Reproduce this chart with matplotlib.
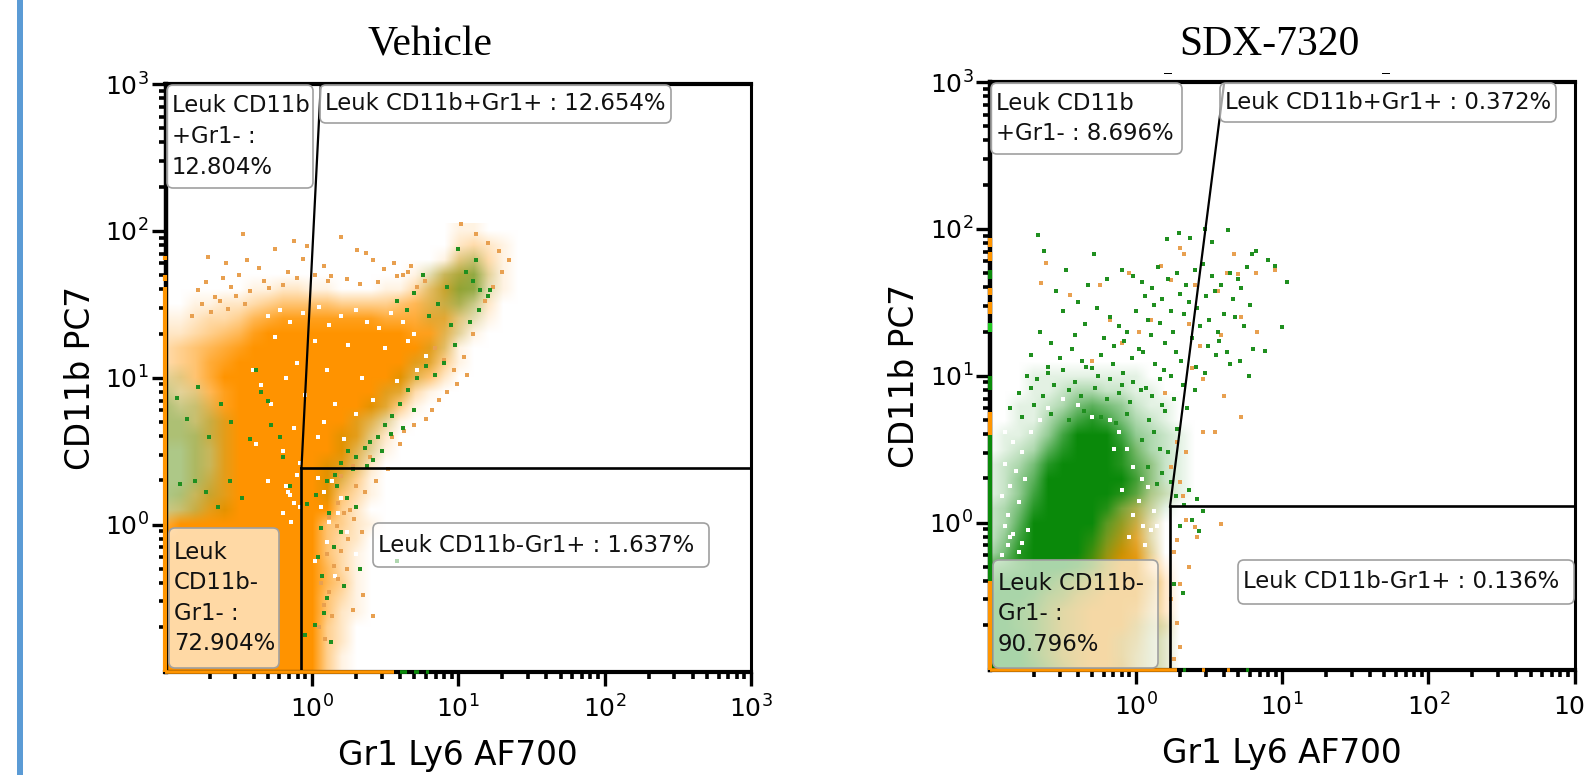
import numpy as np
import matplotlib
matplotlib.use('Agg')
import matplotlib.pyplot as plt
from matplotlib.patches import FancyBboxPatch, Rectangle
from matplotlib.ticker import NullFormatter
from matplotlib.transforms import IdentityTransform

plt.rcParams['font.family'] = 'DejaVu Sans'
plt.rcParams['mathtext.default'] = 'regular'

# density, 0-9, top row is log10(y)=2.0, bottom is -1.0
# columns are log10(x) = -1.0, -0.9 ... 1.5
orange1 = [
    "00000000000000000000110000", "00000000000000000000232100", "00000000000000000001443100",
    "00000000000000000125653100", "00000011221100011357652100", "00112234555544445666532000",
    "11233467888888877777421000", "22345689999999999886310000", "34567899999999999985100000",
    "34578999999999999874100000", "34579999999999999652000000", "33468999999999987310000000",
    "33468999999999974100000000", "33468999999998631000000000", "33468999999998420000000000",
    "22458999999996310000000000", "22458999999985200000000000", "22468999999964100000000000",
    "23578999999953100000000000", "34689999999942000000000000", "79999999999542100000000000",
    "99999999999532000000000000", "99999999999531000000000000", "99999999999631000000000000",
    "99999999999641000000000000", "99999999999531000000000000", "99999999999521000000000000",
    "99999999999420000000000000", "99999999999420000000000000", "99999999999410000000000000",
    "99999999999410000000000000",
]
green1 = [
    "00000000000000000000000000", "00000000000000000000000000", "00000000000000000000120000",
    "00000000000000000012341000", "00000000000000000012441000", "00000000000000000012320000",
    "00000000000000000011110000", "00000000000000000001100000", "00000000000000000011000000",
    "00000000000000000110000000", "11000000000000001100000000", "21100000000000011000000000",
    "32210000000000110000000000", "33221000000001110000000000", "33321000000011100000000000",
    "33321000000011100000000000", "33321000000111000000000000", "33321000000110000000000000",
    "33221000000100000000000000", "22211000000000000000000000", "00000000000000000000000000",
    "00000000000000000000000000", "00000000000000000000000000", "00000000000000000000000000",
    "00000000000000000000000000", "00000000000000000000000000", "00000000000000000000000000",
    "00000000000000000000000000", "00000000000000000000000000", "00000000000000000000000000",
    "00000000000000000000000000",
]
orange2 = [
    "00000000000000000000000000", "00000000000000000000000000", "00000000000000000000000000",
    "00000000000000000000000000", "00000000000000000000000000", "00000000000000000000000000",
    "00000000000000000000000000", "00000000000000000000000000", "00000000000000000000000000",
    "00000000000000000000000000", "00000000000000000000000000", "00000000000000000000000000",
    "00000000000000000000000000", "00000000000000000000000000", "00000000000000000000000000",
    "00000001111000000000000000", "00000011221100000000000000", "00000112332100000000000000",
    "00000123443210000000000000", "00001234555200000000000000", "00012356676200000000000000",
    "00012357787200000000000000", "00123578898300000000000000", "11235799999410000000000000",
    "44569999999620000000000000", "66789999999520000000000000", "77899999998420000000000000",
    "88899999997320000000000000", "89999999986210000000000000", "99999999985210000000000000",
    "99999999995210000000000000",
]
green2 = [
    "00000000000000000000000000", "00000000000000000000000000", "00000000000000000000000000",
    "00000000000000000000000000", "00000000000000000000000000", "00000000000000000000000000",
    "00000000000000000000000000", "00000000000000000000000000", "00000000000000000000000000",
    "00000000000000000000000000", "00011111111000000000000000", "00011233221100000000000000",
    "00112356542110000000000000", "00113578753210000000000000", "01124799974321000000000000",
    "01236899985321000000000000", "12358999986421000000000000", "12469999997421000000000000",
    "12479999986321000000000000", "23589999853210000000000000", "23699999642100000000000000",
    "24799998531100000000000000", "35899997421100000000000000", "67899986311000000000000000",
    "89998653211100000000000000", "99986532111100000000000000", "99875321111100000000000000",
    "99875321112210000000000000", "99975321122210000000000000", "99975321122210000000000000",
    "99986421122210000000000000",
]

# single dots in log10 units
dots_o1_x = [-.47,-.12,-.03,.20,.31,.37,-.71,-.59,-.44,-.36,-.25,-.16,-.06,.08,.13,.42,.49,.56,.62,.68,
             -.78,-.72,-.66,-.61,-.55,-.50,-.42,-.33,-.29,-.20,-.10,.02,.11,.24,.33,.45,.58,.66,.72,.77,
             -.82,-.75,-.69,-.63,-.57,-.52,-.46,.84,.90,.97,1.04,1.10,1.18,1.24,1.30,1.35,1.28,1.20,1.12,1.02,
             1.06,.99,.92,.87,.82,.78,.70,.63,.55,.60,.48,.40,.28,.20,.52,.44,.36,.30,.18,.26,
             .12,.17,.22,.29,.25,.34,.10,.15,.20,.06,.12,.18,.24,.08,.14,.05,.09,.28,.35,.42]
dots_o1_y = [1.98,1.93,1.90,1.96,1.87,1.85,1.82,1.78,1.80,1.75,1.88,1.72,1.81,1.76,1.69,1.80,1.74,1.78,1.70,1.76,
             1.60,1.65,1.55,1.68,1.62,1.70,1.59,1.66,1.61,1.63,1.68,1.70,1.66,1.67,1.64,1.65,1.69,1.72,1.62,1.66,
             1.42,1.50,1.45,1.52,1.47,1.56,1.50,1.20,1.12,1.05,1.14,1.30,1.52,1.62,1.72,1.80,1.86,1.92,1.98,2.05,
             1.02,.96,.90,.85,.78,.72,.68,.64,.60,.55,.50,.46,.40,.33,.38,.30,.22,.26,.15,.10,
             .05,-.01,.08,.04,-.10,-.05,-.20,-.28,-.18,-.40,-.46,-.37,-.30,-.55,-.62,-.70,-.78,-.58,-.48,-.62]
dots_g1_x = [1.0,1.05,1.1,1.15,1.2,.92,.86,.8,.76,.7,.65,.58,.95,1.08,1.14,1.22,.98,.9,.84,1.12,
             .72,.66,.6,.55,.5,.45,.4,.78,.7,.62,.54,.48,.42,.36,.3,.25,.2,.38,.28,.16,
             -.92,-.85,-.78,-.7,-.62,-.55,-.9,-.8,-.72,-.64,-.56,-.48,-.42,-.35,-.28,-.2,-.15,-.38,-.3,-.22,
             .1,.03,-.03,.17,.24,.3,.12,.06,.2,.15,.58,.33,.1,.22,.04,.08,.02,-.05,.13,.07]
dots_g1_y = [1.88,1.72,1.66,1.6,1.56,1.62,1.5,1.42,1.7,1.58,1.46,1.52,1.36,1.38,1.46,1.6,1.22,1.1,1.02,1.8,
             1.0,.92,.82,.74,.68,.6,.56,1.08,.78,.66,.62,.5,.44,.52,.46,.5,.42,.4,.38,.34,
             .86,.72,.94,.6,.82,.7,.28,.3,.22,.12,.3,.18,.58,.9,.68,.46,.26,1.05,.84,.6,
             .3,.2,.14,.26,.18,.12,.08,-.02,-.05,-.15,-.25,-.3,-.5,-.42,-.22,-.6,-.68,-.75,-.8,-.35]
dots_w1_x = [-.3,-.22,-.15,-.06,.05,.12,.2,.3,.38,.46,.54,.62,.7,-.25,.02,.25,.5,.66,.78,-.4,
             -.35,-.18,-.1,.1,.34,.58,.72,-.28,-.05,.16,.42,-.12,.08,.3,-.38,-.2,.04,.22,-.08,-.3,
             -.16,-.12,-.2,-.14,-.18,-.1,-.08,-.15,.04,.08,.14,.2,.06,.12,.18,.1,.24,.3,.02,.16]
dots_w1_y = [1.42,1.46,1.38,1.44,1.48,1.36,1.42,1.46,1.38,1.34,1.44,1.38,1.3,1.28,1.25,1.22,1.2,1.25,1.15,1.05,
             .95,1.0,1.1,1.05,1.0,.98,1.05,.82,.88,.82,.85,.66,.7,.75,.55,.5,.6,.58,.42,.3,
             .22,.15,.08,.02,.26,.34,.12,.2,.32,.22,.3,.18,.12,.02,.08,-.12,-.05,-.2,-.25,-.35]
dots_o2_x = [.67,.30,.33,.17,.24,-.05,.40,.56,.62,.70,.82,.95,.72,.83,.58,.44,.36,.10,-.10,-.30,
             -.62,-.65,-.25,-.45,-.18,.02,.38,.46,.60,.72,.54,.28,.20,.34,.24,.30,.46,.34,.40,.28,
             .26,.36,.42,.30,.24,.28,.30,.26,.32,.58]
dots_o2_y = [1.83,1.87,1.83,1.75,1.65,1.70,1.62,1.58,1.70,1.69,1.70,1.72,1.40,1.30,1.28,1.20,1.35,1.38,1.22,1.10,
             1.77,1.63,1.62,1.55,1.38,1.30,1.05,.98,.86,.72,.62,.55,.88,.48,.38,.28,.62,.02,-.03,-.12,
             -.20,-.30,-.10,-.42,-.52,-.68,-.85,-.93,.18,-.01]
dots_g2_x = [-.67,-.63,.29,.37,.21,.47,.63,.52,.82,.79,.90,.95,1.03,1.00,.88,.80,-.29,
             -.10,-.02,.04,.11,.15,.22,.28,.34,.40,.46,.52,.58,.64,.70,.76,.06,.12,.18,.24,.30,.36,.42,.48,
             .54,.60,.66,.72,.78,-.18,-.12,-.06,.00,.08,.16,.25,.33,.44,.50,.56,.68,.74,-.22,-.15,
             -.08,.02,.10,.20,.27,.38,.49,.57,.62,.71,-.55,-.48,-.40,-.33,-.27,-.20,-.35,-.42,-.50,-.58,
             -.66,-.72,-.60,-.52,-.44,-.37,-.30,-.24,-.16,-.09,-.03,.05,.13,.19,.31,.41,.47,.55,.64,.77,
             -.75,-.68,-.60,-.50,-.42,-.34,-.26,-.18,-.10,-.02,.07,.16,.24,.32,.40,-.80,-.72,-.64,-.56,-.46,
             -.38,-.28,-.20,-.12,-.04,.03,.11,.18,.26,.35,-.86,-.78,-.70,-.58,-.46,-.36,-.24,-.14,-.06,.09,
             .20,.28,.12,.04,.16,.22,.08,.18,.14,.24,.27,.36,.33,.42,.30,.38,.46,.43,.26,.32]
dots_g2_y = [1.96,1.85,1.97,1.94,1.93,2.00,1.99,1.91,1.85,1.83,1.79,1.75,1.64,1.33,1.17,1.18,1.83,
             1.72,1.68,1.64,1.60,1.74,1.66,1.70,1.62,1.72,1.76,1.68,1.62,1.70,1.66,1.74,1.54,1.48,1.52,1.44,1.56,
             1.50,1.46,1.54,1.58,1.42,1.52,1.60,1.48,1.40,1.34,1.30,1.44,1.38,1.36,1.30,1.42,1.34,1.38,1.30,1.40,1.34,
             1.26,1.20,1.24,1.18,1.28,1.22,1.16,1.26,1.20,1.24,1.16,1.10,1.58,1.72,1.50,1.62,1.46,1.66,1.35,1.28,
             1.44,1.22,1.30,1.14,1.06,1.12,1.18,1.10,1.05,1.14,1.08,1.02,1.12,1.16,1.08,1.04,1.10,1.06,1.02,1.14,1.08,1.00,
             1.00,.98,1.02,1.04,.96,1.06,1.00,.98,.94,.96,.92,.98,1.00,.94,.90,.88,.92,.86,.94,.90,
             .86,.92,.84,.88,.82,.90,.86,.80,.84,.78,.78,.72,.80,.74,.70,.76,.72,.68,.74,.70,
             .76,.64,.62,.56,.50,.48,.38,.34,.26,.28,.18,.22,.12,.16,-.02,.02,.08,-.06,-.42,-.48]
dots_w2_x = [-.9,-.84,-.78,-.9,-.82,-.86,-.76,-.92,-.8,-.88,-.72,-.66,-.18,-.12,-.06,-.02,.04,-.1,.08,-.15,
             -.9,-.84,-.78,-.88,-.8,-.92,-.74,-.86,-.02,.05,.02,-.05,.1,.12,.06,.14,-.6,-.5,-.4,-.3]
dots_w2_y = [.62,.55,.48,.4,.35,.25,.3,.18,.14,.05,.62,.7,.7,.62,.5,.38,.3,.22,.24,.5,
             -.02,-.08,-.14,-.15,-.2,-.22,-.05,-.1,.05,-.02,.15,-.1,-.05,.08,-.15,-.02,.78,.84,.8,.72]

gate1_x = [-0.071, 0.061, -0.071, 3.0]
gate1_y = [0.386, 3.0, 0.386, 0.386]
gate2_x = [0.232, 0.603, 0.232, 3.0]
gate2_y = [0.11, 3.0, 0.11, 0.11]
gate_floor = -1.0

tick_major = [1, 10, 100, 1000]
tick_labels = ['$10^{0}$', '$10^{1}$', '$10^{2}$', '$10^{3}$']

# coloured dots that pile up on the axes, as log10 ranges
left_strip1 = [(-1.0, 1.62, '#ff9500'), (1.66, 1.70, '#ff9500'), (1.8, 1.83, '#ff9500')]
bottom_strip1 = [(-1.0, 0.56, '#ff9500'), (0.6, 0.65, '#0a8a0a'), (0.7, 0.73, '#0a8a0a'), (0.78, 0.8, '#0a8a0a')]
left_strip2 = [(-1.0, -0.4, '#ff9500'), (-0.4, 0.1, '#0a8a0a'), (0.1, 0.6, '#0a8a0a'), (0.6, 0.75, '#ff9500'),
               (0.9, 1.0, '#0a8a0a'), (1.3, 1.36, '#22cc22'), (1.42, 1.5, '#ff9500'), (1.55, 1.6, '#ff9500'),
               (1.66, 1.72, '#0a8a0a'), (1.78, 1.84, '#ff9500'), (1.88, 1.94, '#ff9500')]
bottom_strip2 = [(-1.0, 0.28, '#ff9500'), (0.32, 0.34, '#0a8a0a'), (0.45, 0.47, '#ff9500'), (0.62, 0.64, '#ff9500'),
                 (0.75, 0.77, '#0a8a0a')]

W, H = 1584, 775
ORANGE = np.array([1.0, 0.58, 0.0])
GREEN = np.array([0.04, 0.54, 0.04])


def to_grid(rows):
    return np.array([[int(c) for c in r] for r in rows], dtype=float)[::-1] / 9.0


def draw_panel(box, orange, green, o_x, o_y, g_x, g_y, w_x, w_y, gate_x, gate_y, title, title_x, lstrip, bstrip):
    l, t, r, b = box
    pos = [l / W, 1 - b / H, (r - l) / W, (b - t) / H]

    # density goes on a plain axes underneath, in log10 units
    under = fig.add_axes(pos, zorder=1)
    a_o = to_grid(orange)[..., None]
    a_g = to_grid(green)[..., None]
    rgb = (1 - a_o) + a_o * ORANGE
    rgb = rgb * (1 - a_g) + a_g * GREEN
    under.imshow(rgb, origin='lower', extent=[-1.05, 1.55, -1.05, 2.05], aspect='auto', interpolation='bilinear')
    under.set_xlim(-1, 3)
    under.set_ylim(-1, 3)
    under.axis('off')

    ax = fig.add_axes(pos, zorder=2)
    ax.patch.set_alpha(0)
    ax.set_xscale('log')
    ax.set_yscale('log')
    ax.set_xlim(0.1, 1000)
    ax.set_ylim(0.1, 1000)
    ax.scatter(10 ** np.array(w_x), 10 ** np.array(w_y), s=6, marker='s', c='white', linewidths=0, zorder=3)
    ax.scatter(10 ** np.array(o_x), 10 ** np.array(o_y), s=6, marker='s', c='#e8a050', linewidths=0, zorder=3)
    ax.scatter(10 ** np.array(g_x), 10 ** np.array(g_y), s=6, marker='s', c='#1f8f1f', linewidths=0, zorder=3)
    ax.plot(10 ** np.array(gate_x[:2]), 10 ** np.array(gate_y[:2]), color='k', lw=1.6, zorder=4)
    ax.plot(10 ** np.array(gate_x[2:]), 10 ** np.array(gate_y[2:]), color='k', lw=1.9, zorder=4)
    ax.plot([10 ** gate_x[0], 10 ** gate_x[0]], [10 ** gate_floor, 10 ** gate_y[0]], color='k', lw=1.9, zorder=4)
    for s, w in (('left', 3.2), ('top', 3.0), ('right', 2.2), ('bottom', 3.0)):
        ax.spines[s].set_linewidth(w)
    ax.set_xticks(tick_major)
    ax.set_xticklabels(tick_labels)
    ax.set_yticks(tick_major)
    ax.set_yticklabels(tick_labels)
    minor = [m * 10.0 ** e for e in (-1, 0, 1, 2) for m in range(2, 10)]
    ax.set_xticks(minor, minor=True)
    ax.set_yticks(minor, minor=True)
    ax.xaxis.set_minor_formatter(NullFormatter())
    ax.yaxis.set_minor_formatter(NullFormatter())
    ax.tick_params(which='major', length=10, width=2.4, labelsize=18, color='k')
    ax.tick_params(which='minor', length=5, width=2.6)
    ax.tick_params(axis='x', which='major', pad=7)
    ax.tick_params(axis='y', which='major', pad=2)
    ax.set_xlabel('Gr1 Ly6 AF700', fontsize=23.6, labelpad=12)
    ax.set_ylabel('CD11b PC7', fontsize=23.6, labelpad=6)
    for y0, y1, c in lstrip:
        ax.plot([0.1, 0.1], [10 ** y0, 10 ** y1], color=c, lw=3, solid_capstyle='butt', clip_on=False, zorder=6)
    for x0, x1, c in bstrip:
        ax.plot([10 ** x0, 10 ** x1], [0.1, 0.1], color=c, lw=2.6, solid_capstyle='butt', clip_on=False, zorder=6)
    fig.text(title_x / W, 1 - 45 / H, title, family='Liberation Serif', fontsize=30, ha='center', va='center')
    return ax


def label(x0, y0, x1, y1, text):
    patch = FancyBboxPatch((x0, H - y1), x1 - x0, y1 - y0, boxstyle='round,pad=0,rounding_size=6',
                           fc=(1, 1, 1, 0.65), ec='#a0a0a0', lw=1.2, transform=IdentityTransform(), zorder=8)
    fig.add_artist(patch)
    fig.text((x0 + 5) / W, 1 - (y0 + y1) / 2 / H, text, fontsize=16.4,
             va='center', ha='left', color='#111111', linespacing=1.42, zorder=9)


fig = plt.figure(figsize=(W / 100, H / 100), dpi=100)
fig.add_artist(Rectangle((17, 0), 6, H, fc='#5b9bd5', ec='none', transform=IdentityTransform()))

draw_panel((165.5, 84, 751, 671.5), orange1, green1, dots_o1_x, dots_o1_y, dots_g1_x, dots_g1_y, dots_w1_x, dots_w1_y,
           gate1_x, gate1_y, 'Vehicle', 430, left_strip1, bottom_strip1)
draw_panel((990, 82, 1574.5, 669.5), orange2, green2, dots_o2_x, dots_o2_y, dots_g2_x, dots_g2_y, dots_w2_x, dots_w2_y,
           gate2_x, gate2_y, 'SDX-7320', 1269, left_strip2, bottom_strip2)

label(167, 85, 313, 188, 'Leuk CD11b\n+Gr1- :\n12.804%')
label(320, 85, 671, 123, 'Leuk CD11b+Gr1+ : 12.654%')
label(169, 528, 279, 668, 'Leuk\nCD11b-\nGr1- :\n72.904%')
label(373, 523, 709, 567, 'Leuk CD11b-Gr1+ : 1.637%')
label(991, 83, 1182, 154, 'Leuk CD11b\n+Gr1- : 8.696%')
label(1220, 83, 1556, 122, 'Leuk CD11b+Gr1+ : 0.372%')
label(993, 560, 1158, 668, 'Leuk CD11b-\nGr1- :\n90.796%')
label(1238, 560, 1574, 604, 'Leuk CD11b-Gr1+ : 0.136%')

fig.add_artist(Rectangle((1164, H - 74), 8, 1.5, fc='k', ec='none', transform=IdentityTransform()))
fig.add_artist(Rectangle((1382, H - 74), 8, 1.5, fc='k', ec='none', transform=IdentityTransform()))

fig.savefig('out.png', dpi=100)
